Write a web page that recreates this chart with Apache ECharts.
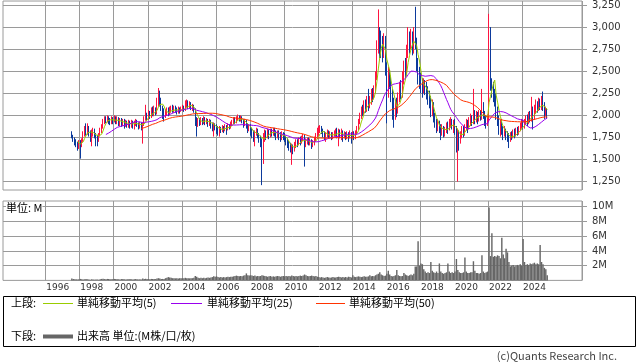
<!DOCTYPE html>
<html><head><meta charset="utf-8">
<script src="https://cdn.jsdelivr.net/npm/echarts@6/dist/echarts.min.js"></script>
<style>html,body{margin:0;padding:0;background:#fff}#c{width:638px;height:362px}</style>
</head><body><div id="c"></div>
<script>
// Monthly candles, first month = 1997-07, last = 2025-06
const firstMonth = '1997-07';
const opens = [
1800,1760,1720,1700,1680,1650,
1690,1660,1720,1780,1840,1800,1860,1800,1760,1800,1820,1780,
1740,1720,1780,1820,1870,1930,1960,1940,1970,1950,1930,1960,
1940,1970,1930,1960,1920,1950,1910,1940,1900,1920,1890,1920,
1900,1920,1890,1910,1930,1900,1880,1900,1870,1900,1960,2000,
1980,2020,1990,2050,2010,2060,2030,2120,2250,2150,2080,2040,
2000,2030,2060,2020,2060,2080,2050,2080,2060,2040,2070,2050,
2070,2090,2060,2110,2140,2100,2130,2090,2100,2060,1950,1900,
1940,1920,1950,1930,1960,1920,1940,1910,1930,1900,1870,1890,
1870,1840,1820,1850,1830,1860,1840,1870,1850,1880,1860,1900,
1920,1950,1930,1960,1980,1950,1970,1940,1900,1930,1890,1850,
1870,1820,1800,1760,1800,1830,1780,1740,1700,1680,1750,1800,
1780,1810,1780,1820,1800,1830,1800,1770,1800,1780,1760,1790,
1770,1740,1700,1680,1650,1620,1640,1620,1660,1700,1680,1720,
1700,1730,1760,1680,1700,1720,1690,1710,1670,1690,1720,1760,
1800,1830,1860,1820,1790,1760,1780,1800,1770,1790,1760,1780,
1800,1820,1790,1810,1780,1800,1770,1790,1760,1780,1760,1790,
1770,1790,1760,1800,1850,1930,1990,2060,2020,2130,2090,2160,
2120,2160,2240,2200,2280,2450,2750,2950,2850,2780,2700,2850,
2550,2300,2450,2400,2250,2100,2000,2100,2050,2200,2300,2250,
2400,2550,2500,2700,2850,2800,2900,2750,2900,2850,2550,2400,
2380,2350,2300,2350,2300,2250,2200,2150,2050,2100,1950,1900,
1850,1900,1850,1820,1860,1800,1830,1880,1850,1900,1930,1880,
1900,1850,1760,1800,1720,1780,1830,1800,1860,1900,1850,1920,
1960,1930,1990,1950,2000,1960,2020,1980,2060,2000,1940,1920,
1960,2900,2350,2300,2250,2200,2050,1950,1850,1900,1850,1800,
1820,1780,1750,1720,1770,1760,1800,1780,1820,1800,1840,1880,
1900,1880,1920,1960,1930,1990,1960,2040,1980,2060,2100,2080,
2140,2100,2150,2100,2020,2060
];
const closes = [
1760,1720,1700,1680,1650,1690,
1660,1720,1780,1840,1800,1860,1800,1760,1800,1820,1780,1740,
1720,1780,1820,1870,1930,1960,1940,1970,1950,1930,1960,1940,
1970,1930,1960,1920,1950,1910,1940,1900,1920,1890,1920,1900,
1920,1890,1910,1930,1900,1880,1900,1870,1900,1960,2000,1980,
2020,1990,2050,2010,2060,2030,2120,2250,2150,2080,2040,2000,
2030,2060,2020,2060,2080,2050,2080,2060,2040,2070,2050,2070,
2090,2060,2110,2140,2100,2130,2090,2100,2060,1950,1900,1940,
1920,1950,1930,1960,1920,1940,1910,1930,1900,1870,1890,1870,
1840,1820,1850,1830,1860,1840,1870,1850,1880,1860,1900,1920,
1950,1930,1960,1980,1950,1970,1940,1900,1930,1890,1850,1870,
1820,1800,1760,1800,1830,1780,1740,1700,1680,1750,1800,1780,
1810,1780,1820,1800,1830,1800,1770,1800,1780,1760,1790,1770,
1740,1700,1680,1650,1620,1640,1620,1660,1700,1680,1720,1700,
1730,1760,1680,1700,1720,1690,1710,1670,1690,1720,1760,1800,
1830,1860,1820,1790,1760,1780,1800,1770,1790,1760,1780,1800,
1820,1790,1810,1780,1800,1770,1790,1760,1780,1760,1790,1770,
1790,1760,1800,1850,1930,1990,2060,2020,2130,2090,2160,2120,
2160,2240,2200,2280,2450,2750,2950,2850,2780,2700,2850,2550,
2300,2450,2400,2250,2100,2000,2100,2050,2200,2300,2250,2400,
2550,2500,2700,2850,2800,2900,2750,2900,2850,2550,2400,2380,
2350,2300,2350,2300,2250,2200,2150,2050,2100,1950,1900,1850,
1900,1850,1820,1860,1800,1830,1880,1850,1900,1930,1880,1900,
1850,1760,1800,1720,1780,1830,1800,1860,1900,1850,1920,1960,
1930,1990,1950,2000,1960,2020,1980,2060,2000,1940,1920,1960,
2900,2350,2300,2250,2200,2050,1950,1850,1900,1850,1800,1820,
1780,1750,1720,1770,1760,1800,1780,1820,1800,1840,1880,1900,
1880,1920,1960,1930,1990,1960,2040,1980,2060,2100,2080,2140,
2100,2150,2100,2020,2060,1990
];
const lows = [
1740,1700,1660,1640,1600,1620,
1510,1640,1700,1760,1770,1780,1760,1700,1650,1760,1740,1650,
1650,1700,1760,1800,1850,1900,1910,1920,1900,1890,1900,1900,
1920,1900,1900,1880,1880,1870,1880,1850,1870,1860,1860,1850,
1860,1850,1840,1880,1870,1840,1850,1830,1680,1880,1940,1940,
1950,1960,1970,1990,1990,2000,2010,2100,2100,2050,1960,1930,
1970,2000,1990,2000,2030,2030,2030,2030,2010,2020,2020,2040,
2050,2040,2050,2090,2070,2080,2060,2050,2030,1880,1760,1870,
1880,1890,1890,1900,1890,1900,1870,1880,1850,1820,1760,1830,
1790,1770,1760,1800,1810,1800,1820,1780,1830,1840,1850,1880,
1900,1900,1910,1940,1930,1930,1910,1860,1880,1850,1800,1820,
1770,1740,1700,1650,1770,1740,1690,1640,1210,1450,1700,1720,
1740,1730,1750,1760,1770,1760,1720,1740,1720,1700,1720,1720,
1700,1660,1630,1600,1580,1440,1560,1590,1630,1640,1660,1660,
1680,1710,1420,1640,1670,1660,1660,1620,1640,1660,1700,1750,
1770,1800,1790,1750,1720,1700,1750,1740,1740,1720,1730,1760,
1760,1740,1650,1740,1720,1700,1740,1720,1730,1700,1740,1680,
1740,1720,1730,1780,1830,1900,1960,1990,2000,2030,2040,2050,
2080,2120,2150,2180,2250,2400,2700,2650,2650,2600,2650,2450,
1910,2200,2300,2150,1950,1860,1950,1980,2020,2150,2180,2200,
2350,2420,2450,2650,2700,2750,2680,2700,2750,2500,2350,2300,
2250,2200,2250,2230,2180,2120,2080,1980,1990,1920,1860,1800,
1820,1800,1720,1770,1750,1760,1800,1790,1830,1860,1840,1800,
1780,1580,1250,1600,1680,1740,1750,1770,1830,1800,1840,1880,
1880,1900,1900,1920,1900,1930,1940,1950,1960,1880,1850,1880,
1930,2280,2200,2150,2100,1950,1880,1780,1760,1780,1720,1760,
1720,1700,1630,1700,1720,1740,1740,1760,1770,1780,1820,1850,
1840,1850,1890,1880,1900,1920,1930,1840,1950,2020,2030,2050,
2060,2060,2050,1960,1990,1960
];
const highs = [
1820,1780,1750,1730,1700,1720,
1720,1740,1820,1880,1910,1910,1880,1830,1840,1860,1850,1800,
1780,1800,1860,1900,1960,1990,1990,2000,1990,1970,1990,1980,
2000,1990,1990,1980,1970,1970,1960,1960,1950,1940,1950,1940,
1950,1940,1940,1960,1950,1920,1930,1920,1920,1990,2120,2030,
2060,2050,2090,2100,2110,2090,2200,2310,2280,2200,2110,2080,
2070,2090,2090,2100,2110,2120,2110,2110,2090,2100,2090,2100,
2120,2110,2170,2180,2170,2160,2150,2130,2120,2080,1980,1970,
1970,1980,1970,1990,1980,1970,1960,1960,1950,1920,1920,1910,
1900,1880,1880,1870,1890,1880,1900,1890,1910,1900,1930,1950,
1980,1980,1990,2010,2000,2000,1990,1960,1960,1950,1910,1900,
1900,1860,1830,1830,1860,1850,1800,1770,1740,1800,1840,1830,
1850,1840,1850,1850,1860,1860,1830,1830,1830,1810,1820,1810,
1800,1770,1740,1710,1690,1680,1670,1700,1730,1730,1750,1760,
1770,1790,1780,1740,1750,1750,1740,1730,1720,1760,1800,1860,
1880,1890,1880,1850,1820,1810,1840,1830,1820,1810,1810,1830,
1850,1860,1850,1840,1850,1830,1820,1810,1820,1810,1830,1810,
1820,1820,1830,1880,1960,2030,2100,2120,2170,2180,2220,2300,
2220,2300,2310,2340,2500,2850,3200,3000,2960,2900,2930,2900,
2600,2550,2520,2450,2300,2200,2180,2200,2260,2380,2400,2500,
2620,2650,2800,3000,2950,2980,2950,3000,3230,2880,2650,2550,
2480,2420,2420,2400,2380,2330,2280,2220,2180,2150,2030,1960,
1960,1940,1900,1900,1880,1870,1920,1930,1960,1980,1960,1950,
1960,1880,1850,1830,1820,1880,1880,1900,1960,1950,1980,2020,
2000,2300,2060,2050,2040,2060,2060,2300,2150,2050,2000,2010,
3150,3000,2420,2380,2300,2250,2100,2000,1950,1960,1880,1880,
1850,1820,1800,1810,1820,1840,1850,1860,1870,1880,1920,1960,
1950,1960,2000,2010,2040,2050,2210,2100,2120,2180,2160,2200,
2190,2220,2270,2150,2100,2080
];
// Monthly volume, millions of shares
const volumes = [
0.25,0.18,0.15,0.15,0.12,0.15,
0.2,0.15,0.12,0.15,0.2,0.15,0.12,0.1,0.15,0.12,0.1,0.12,
0.12,0.1,0.15,0.2,0.22,0.18,0.15,0.2,0.18,0.15,0.15,0.2,
0.2,0.18,0.15,0.15,0.12,0.18,0.2,0.15,0.12,0.15,0.15,0.18,
0.15,0.12,0.15,0.18,0.15,0.12,0.15,0.12,0.25,0.2,0.22,0.18,
0.18,0.15,0.2,0.18,0.2,0.18,0.25,0.3,0.25,0.2,0.2,0.18,
0.3,0.35,0.45,0.4,0.35,0.3,0.3,0.28,0.3,0.25,0.3,0.28,
0.3,0.28,0.35,0.3,0.3,0.28,0.3,0.3,0.35,0.6,0.5,0.35,
0.3,0.35,0.3,0.35,0.3,0.35,0.4,0.35,0.4,0.45,0.55,0.5,
0.55,0.45,0.4,0.45,0.4,0.45,0.4,0.45,0.5,0.45,0.5,0.5,
0.55,0.6,0.65,0.6,0.55,0.6,0.55,0.65,0.7,0.95,0.7,0.65,
0.7,0.65,0.6,0.65,0.55,0.6,0.55,0.6,0.7,0.65,0.6,0.55,
0.5,0.55,0.6,0.5,0.55,0.5,0.55,0.6,0.55,0.5,0.55,0.6,
0.55,0.6,0.55,0.6,0.55,0.65,0.6,0.55,0.6,0.55,0.6,0.65,
0.6,0.65,0.8,0.7,0.6,0.55,0.6,0.65,0.6,0.55,0.6,0.5,
0.45,0.4,0.45,0.4,0.35,0.4,0.45,0.4,0.35,0.4,0.45,0.4,
0.4,0.45,0.5,0.45,0.4,0.45,0.4,0.45,0.4,0.5,0.45,0.4,
0.7,0.5,0.45,0.5,0.55,0.5,0.45,0.5,0.55,0.5,0.5,0.55,
0.7,0.55,0.6,0.55,0.7,0.8,0.9,1.1,0.8,0.7,0.6,0.65,
0.9,1.3,0.8,0.6,0.55,0.6,0.7,1.4,0.7,0.6,0.55,0.6,
1.0,0.8,0.7,0.6,0.7,0.8,0.7,0.9,1.9,1.9,5.3,2.0,
2.3,2.2,1.5,1.2,1.0,1.1,1.0,2.5,1.3,1.1,1.0,1.2,
1.0,2.3,1.2,1.0,0.9,1.0,1.1,2.3,1.2,1.0,1.1,1.0,
1.2,2.9,1.4,1.1,1.0,1.0,1.1,3.1,1.2,1.0,1.0,1.1,
1.1,2.6,1.3,1.0,1.0,0.9,1.0,3.4,1.2,1.0,1.1,1.2,
9.9,3.3,6.4,3.2,3.3,3.2,3.4,3.3,3.0,5.8,3.5,3.0,
4.3,3.8,2.5,1.9,2.0,2.1,1.9,2.0,2.1,2.0,2.2,2.0,
5.6,2.5,2.1,2.2,2.1,2.3,2.2,2.3,2.4,2.2,2.3,2.2,
4.8,2.5,2.2,1.7,1.5,0.7
];
const priceTicks = [1250,1500,1750,2000,2250,2500,2750,3000,3250];
const volumeTicks = [2,4,6,8,10];
const yearLabels = ['1996','1998','2000','2002','2004','2006','2008','2010','2012','2014','2016','2018','2020','2022','2024'];
const maPeriods = [5,25,50];
const maNames = ['単純移動平均(5)','単純移動平均(25)','単純移動平均(50)'];

// monthly category axis spanning 1993-07 .. 2027-06
const categories = [];
for (let y = 1993; y <= 2027; y++) {
  for (let m = 1; m <= 12; m++) {
    if ((y === 1993 && m < 7) || (y === 2027 && m > 6)) continue;
    categories.push(y + '-' + String(m).padStart(2, '0'));
  }
}
const offset = categories.indexOf(firstMonth);
const n = closes.length;
const candleData = categories.map((c, i) => {
  const k = i - offset;
  return (k >= 0 && k < n) ? [opens[k], closes[k], lows[k], highs[k]] : ['-', '-', '-', '-'];
});
const volData = categories.map((c, i) => {
  const k = i - offset;
  return (k >= 0 && k < n) ? volumes[k] : '-';
});
function sma(p) {
  return categories.map((c, i) => {
    const k = i - offset;
    if (k < p - 1 || k >= n) return '-';
    let s = 0;
    for (let j = k - p + 1; j <= k; j++) s += closes[j];
    return +(s / p).toFixed(1);
  });
}
const isYearTick = (idx, val) => val.endsWith('-01') && yearLabels.indexOf(val.slice(0, 4)) >= 0;
const fmtComma = v => String(v).replace(/\B(?=(\d{3})+(?!\d))/g, ',');

const UP = '#ff1440', DOWN = '#0c3a9c', GRID = '#9a9a9a', LBL = '#333';
const maColors = ['#99cc00', '#9900ee', '#ff3300'];
const fontNum = 'DejaVu Sans';
const fontJP = "'Noto Sans CJK JP', sans-serif";

const chart = echarts.init(document.getElementById('c'), null, {renderer: 'canvas'});
const baseX = (gi, showLabel) => ({
  type: 'category', gridIndex: gi, data: categories, boundaryGap: true,
  axisLine: {show: false}, axisTick: {show: false},
  axisLabel: showLabel ? {
    show: true, interval: isYearTick, formatter: v => v.slice(0, 4),
    align: 'left', margin: 3, fontSize: 9, fontFamily: fontNum, color: LBL
  } : {show: false},
  splitLine: {show: true, interval: isYearTick, lineStyle: {color: GRID, width: 1}}
});
const maSeries = maPeriods.map((p, i) => ({
  type: 'line', name: maNames[i], xAxisIndex: 0, yAxisIndex: 0,
  data: sma(p), symbol: 'none', showSymbol: false,
  lineStyle: {color: maColors[i], width: 1}, z: 5 + i, silent: true
}));

const legendItems = [];
function txt(x, y, s, opt) {
  legendItems.push(Object.assign({type: 'text', x: x, y: y, style: {text: s, font: '11px ' + fontJP, fill: '#000', verticalAlign: 'middle', align: 'left'}}, opt || {}));
}
function seg(x1, x2, y, color, w) {
  legendItems.push({type: 'line', shape: {x1: x1, y1: y, x2: x2, y2: y}, style: {stroke: color, lineWidth: w}});
}
legendItems.push({type: 'rect', shape: {x: 3.5, y: 296.5, width: 632, height: 50}, style: {fill: '#fff', stroke: '#000', lineWidth: 1}});
txt(11, 303, '上段:');
seg(43, 73, 303.5, maColors[0], 1); txt(77, 303, maNames[0]);
seg(171, 202, 303.5, maColors[1], 1); txt(207, 303, maNames[1]);
seg(316, 345, 303.5, maColors[2], 1); txt(349, 303, maNames[2]);
txt(11, 336, '下段:');
seg(43, 73, 336.5, '#666', 4); txt(77, 336, '出来高 単位:(M株/口/枚)');
legendItems.push({type: 'text', x: 617, y: 356, style: {text: '(c)Quants Research Inc.', font: '11px ' + fontJP, fill: '#444', align: 'right', verticalAlign: 'middle'}});
legendItems.push({type: 'text', x: 6, y: 208, z: 100, style: {text: '単位: M', font: '11px ' + fontJP, fill: '#000', align: 'left', verticalAlign: 'middle', backgroundColor: '#fff'}});

chart.setOption({
  animation: false,
  backgroundColor: '#fff',
  grid: [
    {left: 3, right: 56, top: 1, height: 189, show: true, borderColor: GRID, borderWidth: 1, backgroundColor: 'transparent'},
    {left: 3, right: 56, top: 201, height: 79.4, show: true, borderColor: GRID, borderWidth: 1, backgroundColor: 'transparent'}
  ],
  xAxis: [baseX(0, false), baseX(1, true)],
  yAxis: [
    {type: 'value', gridIndex: 0, position: 'right', min: 1155, max: 3295,
     axisLine: {show: false},
     axisTick: {show: true, length: 5, customValues: priceTicks, lineStyle: {color: GRID}},
     axisLabel: {customValues: priceTicks, formatter: fmtComma, margin: 10, fontSize: 10, fontFamily: fontNum, color: LBL},
     splitLine: {show: true, lineStyle: {color: GRID, width: 1}}},
    {type: 'value', gridIndex: 1, position: 'right', min: 0, max: 10.77,
     axisLine: {show: false},
     axisTick: {show: true, length: 5, customValues: volumeTicks, lineStyle: {color: GRID}},
     axisLabel: {customValues: volumeTicks, formatter: v => v + 'M', margin: 10, fontSize: 10, fontFamily: fontNum, color: LBL},
     splitLine: {show: true, lineStyle: {color: GRID, width: 1}}}
  ],
  series: [
    {type: 'candlestick', name: '株価', xAxisIndex: 0, yAxisIndex: 0, data: candleData,
     barWidth: 1,
     itemStyle: {color: UP, color0: DOWN, borderColor: UP, borderColor0: DOWN, borderWidth: 1}, z: 3},
    ...maSeries,
    {type: 'bar', name: '出来高', xAxisIndex: 1, yAxisIndex: 1, data: volData,
     barCategoryGap: '0%', barGap: '0%', itemStyle: {color: '#666'}, z: 3}
  ],
  graphic: legendItems
});
</script></body></html>
